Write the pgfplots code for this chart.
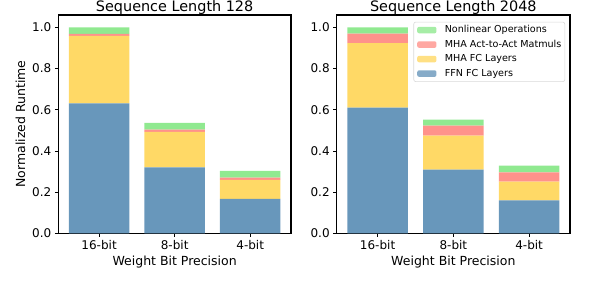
\documentclass[border=0pt]{standalone}
\usepackage{pgfplots}
\pgfplotsset{compat=1.18}
\usepackage{fontspec}
\setmainfont{DejaVu Sans}
\definecolor{cffn}{HTML}{6897BB}
\definecolor{cmha}{HTML}{FFD966}
\definecolor{cact}{HTML}{FF928B}
\definecolor{cnl}{HTML}{90E990}

\pgfplotsset{
  every axis title shift=0pt,
  myax/.style={
    scale only axis, height=218.3pt,
    ybar stacked, bar width=0.8,
    xmin=-0.54, xmax=2.54, ymin=0, ymax=1.06,
    xtick={0,1,2}, xticklabels={16-bit,8-bit,4-bit},
    ytick={0,0.2,0.4,0.6,0.8,1.0},
    yticklabel style={/pgf/number format/fixed, /pgf/number format/fixed zerofill, /pgf/number format/precision=1},
    /pgf/number format/assume math mode=true,
    axis line style={line width=1.2pt},
    tick align=outside, tick pos=left, major tick length=3.5pt,
    tick style={line width=0.8pt, black},
    ticklabel style={font=\fontsize{12}{14}\selectfont},
    label style={font=\fontsize{12.5}{15}\selectfont},
    title style={font=\fontsize{14.4}{17}\selectfont, at={(axis description cs:0.5,1)}, anchor=base, yshift=3.3pt},
    xlabel style={at={(axis description cs:0.5,0)}, anchor=base, yshift=-32.4pt},
    xlabel={Weight Bit Precision},
    every axis plot/.append style={draw=none},
  },
}

\begin{document}
\begin{tikzpicture}
\useasboundingbox (0,0) rectangle (600pt,300pt);

\begin{axis}[myax, width=232.7pt, at={(58.3pt,66.7pt)}, anchor=south west,
  title={Sequence Length 128},
  ylabel={Normalized Runtime},
  ylabel style={at={(axis description cs:-0.1431,0.5)}, anchor=base},
]
\addplot[fill=cffn] coordinates {(0,0.631) (1,0.320) (2,0.167)};
\addplot[fill=cmha] coordinates {(0,0.328) (1,0.172) (2,0.092)};
\addplot[fill=cact] coordinates {(0,0.009) (1,0.011) (2,0.011)};
\addplot[fill=cnl] coordinates {(0,0.032) (1,0.033) (2,0.033)};
\end{axis}

\begin{axis}[myax, width=233.3pt, at={(336.7pt,66.7pt)}, anchor=south west,
  title={Sequence Length 2048},
  reverse legend,
  legend image code/.code={\fill[#1] (0pt,-3.3pt) rectangle (19.3pt,3.3pt); \path (27.6pt,0pt);},
  legend style={at={(rel axis cs:0.979,0.969)}, anchor=north east,
    draw=black!15, line width=0.6pt, rounded corners=2pt, fill=white, fill opacity=0.8, text opacity=1,
    font=\fontsize{9.6}{11}\selectfont, inner xsep=3.4pt, inner ysep=3.5pt,
    nodes={inner sep=0pt, text height=7pt, text depth=2pt, anchor=west},
    row sep=5.5pt},
  legend cell align=left,
]
\addplot[fill=cffn] coordinates {(0,0.610) (1,0.309) (2,0.160)};
\addplot[fill=cmha] coordinates {(0,0.314) (1,0.165) (2,0.091)};
\addplot[fill=cact] coordinates {(0,0.045) (1,0.049) (2,0.045)};
\addplot[fill=cnl] coordinates {(0,0.031) (1,0.029) (2,0.032)};
\legend{FFN FC Layers, MHA FC Layers, MHA Act-to-Act Matmuls, Nonlinear Operations}
\end{axis}
\end{tikzpicture}
\end{document}
